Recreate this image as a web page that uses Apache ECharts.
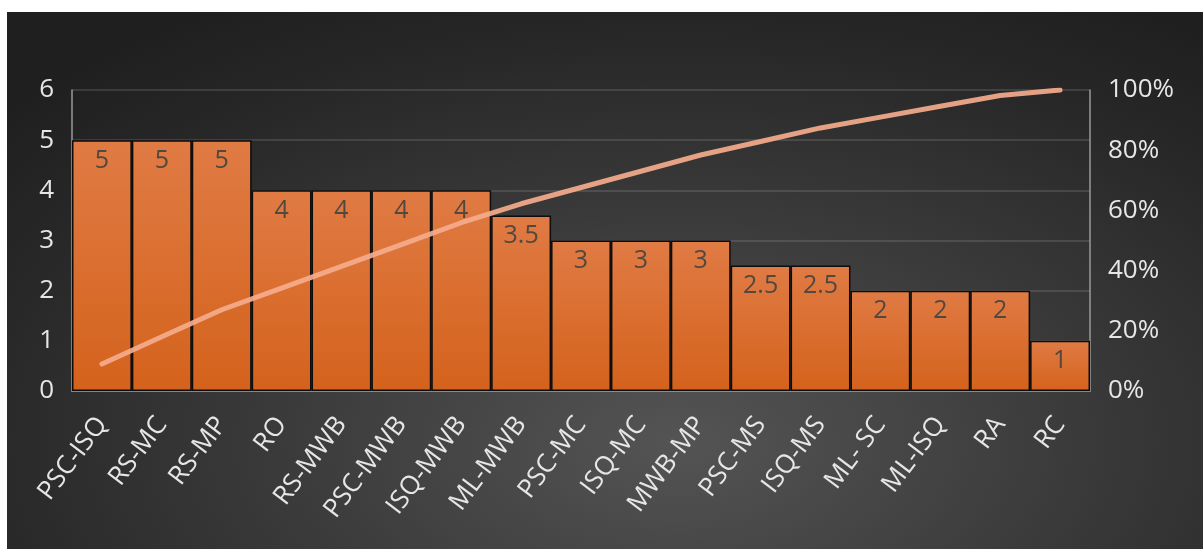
<!DOCTYPE html>
<html>
<head>
<meta charset="utf-8">
<script src="https://cdn.jsdelivr.net/npm/echarts@6/dist/echarts.min.js"></script>
<style>
  html, body { margin: 0; padding: 0; background: #ffffff; width: 1203px; height: 549px; overflow: hidden; }
  #frame { position: absolute; left: 7px; top: 12px; width: 1196px; height: 537px;
    background: radial-gradient(ellipse 75% 95% at 56% 80%, #545454 0%, #3a3a3a 45%, #272727 80%, #1f1f1f 100%); }
  #chart { width: 1196px; height: 537px; }
</style>
</head>
<body>
<div id="frame"><div id="chart"></div></div>
<script>
const categories = ['PSC-ISQ','RS-MC','RS-MP','RO','RS-MWB','PSC-MWB','ISQ-MWB','ML-MWB','PSC-MC','ISQ-MC','MWB-MP','PSC-MS','ISQ-MS','ML- SC','ML-ISQ','RA','RC'];
const barValues = [5, 5, 5, 4, 4, 4, 4, 3.5, 3, 3, 3, 2.5, 2.5, 2, 2, 2, 1];
const cumulativePct = [9.0, 18.0, 27.0, 34.2, 41.4, 48.6, 55.9, 62.2, 67.6, 73.0, 78.4, 82.9, 87.4, 91.0, 94.6, 98.2, 100];
const leftTicks = [0, 6, 1];
const rightTicks = [0, 100, 20];

const chart = echarts.init(document.getElementById('chart'), null, { renderer: 'canvas' });
const font = '"Open Sans", Lato, sans-serif';
chart.setOption({
  backgroundColor: 'transparent',
  animation: false,
  grid: { left: 65, top: 78, width: 1018, height: 301, containLabel: false },
  xAxis: {
    type: 'category',
    data: categories,
    axisLine: { show: true, lineStyle: { color: '#9a9a9a', width: 1.5 } },
    axisTick: { show: false },
    axisLabel: { rotate: 53, color: '#e6e6e6', fontSize: 26, fontFamily: font, margin: 29, interval: 0 },
    splitLine: { show: false }
  },
  yAxis: [
    {
      type: 'value', min: leftTicks[0], max: leftTicks[1], interval: leftTicks[2],
      axisLine: { show: true, lineStyle: { color: '#9a9a9a', width: 1.5 } },
      axisTick: { show: false },
      axisLabel: { color: '#e6e6e6', fontSize: 26, fontFamily: font, margin: 18 },
      splitLine: { show: true, lineStyle: { color: 'rgba(255,255,255,0.16)', width: 1.5 } }
    },
    {
      type: 'value', min: rightTicks[0], max: rightTicks[1], interval: rightTicks[2],
      position: 'right',
      axisLine: { show: true, lineStyle: { color: '#9a9a9a', width: 1.5 } },
      axisTick: { show: false },
      axisLabel: { color: '#e6e6e6', fontSize: 26, fontFamily: font, margin: 18, formatter: '{value}%' },
      splitLine: { show: false }
    }
  ],
  series: [
    {
      type: 'bar',
      data: barValues,
      barCategoryGap: '0%',
      itemStyle: {
        color: new echarts.graphic.LinearGradient(0, 0, 0, 1, [
          { offset: 0, color: '#e07b44' },
          { offset: 1, color: '#d4621c' }
        ]),
        borderColor: '#0d0d0d',
        borderWidth: 1.5
      },
      label: { show: true, position: 'insideTop', distance: 8, color: '#524840', fontSize: 25, fontFamily: font },
      z: 2
    },
    {
      type: 'line',
      yAxisIndex: 1,
      data: cumulativePct,
      symbol: 'none',
      smooth: false,
      lineStyle: { color: '#f5ab8c', width: 5, cap: 'round', join: 'round', opacity: 0.92 },
      z: 3
    }
  ]
});
</script>
</body>
</html>
